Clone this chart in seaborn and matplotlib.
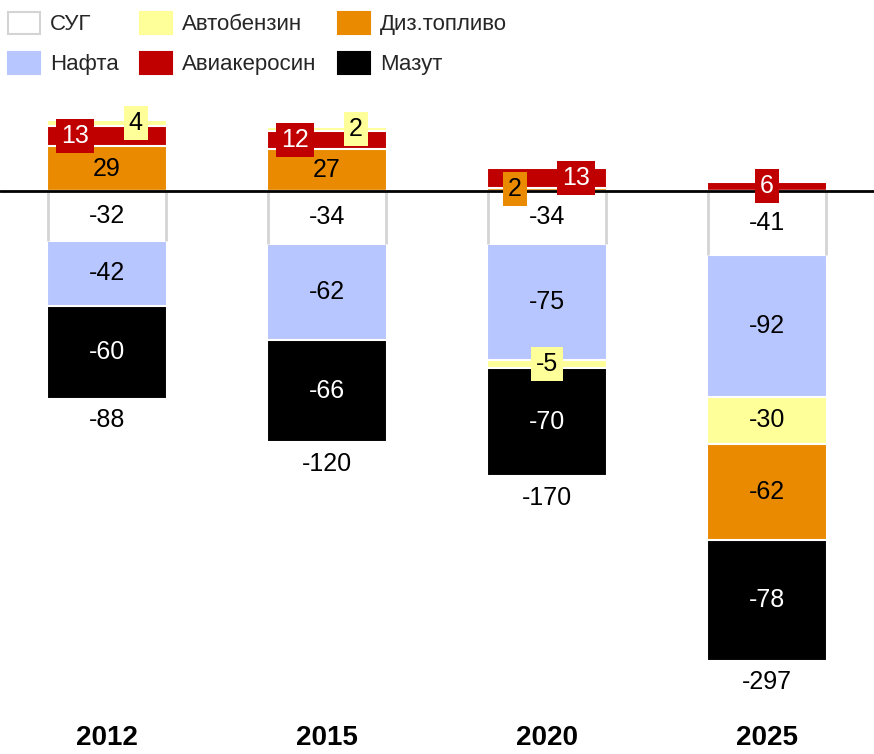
import matplotlib
matplotlib.use('Agg')
import matplotlib.pyplot as plt
from matplotlib.patches import Patch
import seaborn as sns
import pandas as pd

years = ['2012', '2015', '2020', '2025']
sug = [-32, -34, -34, -41]
nafta = [-42, -62, -75, -92]
benzin = [4, 2, -5, -30]
diesel = [29, 27, 2, -62]
kero = [13, 12, 13, 6]
mazut = [-60, -66, -70, -78]
totals = [-88, -120, -170, -297]

series_names = ['СУГ', 'Нафта', 'Автобензин', 'Авиакеросин', 'Диз.топливо', 'Мазут']
colors = {
    'СУГ': '#ffffff',
    'Автобензин': '#ffff99',
    'Диз.топливо': '#e98a00',
    'Нафта': '#b8c6ff',
    'Авиакеросин': '#c00000',
    'Мазут': '#000000',
}
values = {
    'СУГ': sug,
    'Нафта': nafta,
    'Автобензин': benzin,
    'Авиакеросин': kero,
    'Диз.топливо': diesel,
    'Мазут': mazut,
}
pos_order = ['Диз.топливо', 'Авиакеросин', 'Автобензин']
neg_order = ['СУГ', 'Нафта', 'Автобензин', 'Диз.топливо', 'Мазут']

# build stacked segments (start/end) per year and sign
rows = []
for i, yr in enumerate(years):
    for sign, order in (('pos', pos_order), ('neg', neg_order)):
        cum = 0
        for s in order:
            v = values[s][i]
            if v == 0 or (v > 0) != (sign == 'pos'):
                continue
            rows.append(dict(year=yr, idx=i, sign=sign, series=s,
                             value=v, start=cum, end=cum + v))
            cum += v
seg = pd.DataFrame(rows)
seg['rank'] = seg.groupby(['year', 'sign'])['end'].transform(
    lambda e: e.abs().rank(ascending=False, method='first')).astype(int) - 1

sns.set_theme(style='white')
plt.rcParams['font.family'] = ['Liberation Sans', 'DejaVu Sans']

fig = plt.figure(figsize=(8.74, 7.54), dpi=100)
ax = fig.add_axes([0, 0, 1, 1])
bar_w = 0.545

# overlay cumulative bars, outermost first
for sign in ('pos', 'neg'):
    part = seg[seg['sign'] == sign]
    for r in sorted(part['rank'].unique()):
        layer = part[part['rank'] == r]
        sns.barplot(data=layer, x='year', y='end', hue='series',
                    palette=colors, order=years, hue_order=series_names,
                    dodge=False, width=bar_w, saturation=1, errorbar=None,
                    edgecolor='white', linewidth=1.5, legend=False, ax=ax)

# grey sides of the СУГ boxes
for i in range(len(years)):
    ax.vlines([i - bar_w / 2 + 0.004, i + bar_w / 2 - 0.004], sug[i], 0,
              color='#d4d4d4', lw=2, zorder=3)

ax.axhline(0, color='black', lw=2, zorder=5)

# segment labels
for (yr, sign), grp in seg.groupby(['year', 'sign'], sort=False):
    small = grp[grp['value'].abs() < 15]
    offsets = [0.0] if len(small) == 1 else [-0.145, 0.13]
    k = 0
    for _, row in grp.iterrows():
        c = colors[row['series']]
        tcol = 'white' if row['series'] in ('Мазут', 'Авиакеросин') else 'black'
        yc = (row['start'] + row['end']) / 2
        if abs(row['value']) < 15:
            ax.text(row['idx'] + offsets[k], yc, f"{row['value']}",
                    ha='center', va='center', fontsize=18, color=tcol, zorder=6,
                    bbox=dict(boxstyle='square,pad=0.2', fc=c, ec='none'))
            k += 1
        else:
            ax.text(row['idx'], yc, f"{row['value']}", ha='center', va='center',
                    fontsize=18, color=tcol, zorder=6)

# totals below bars and year labels
neg_bottom = seg[seg['sign'] == 'neg'].groupby('idx')['end'].min()
for i, yr in enumerate(years):
    ax.text(i, neg_bottom[i] - 14, f"{totals[i]}", ha='center', va='center',
            fontsize=18, color='black')
    ax.text(i, -357.5, yr, ha='center', va='baseline', fontsize=20,
            fontweight='bold', color='black')

ax.set_xlim(-0.486, 3.486)
ax.set_ylim(-363.2, 123.2)
ax.axis('off')

legend_order = ['СУГ', 'Нафта', 'Автобензин', 'Авиакеросин', 'Диз.топливо', 'Мазут']
handles = [Patch(facecolor=colors[s],
                 edgecolor='#d4d4d4' if s == 'СУГ' else colors[s],
                 linewidth=1.5, label=s) for s in legend_order]
fig.legend(handles=handles, ncol=3, loc='upper left', bbox_to_anchor=(0.0, 0.995),
           frameon=False, fontsize=16, handlelength=1.45, handleheight=1.15,
           handletextpad=0.45, columnspacing=0.95, labelspacing=0.75,
           borderaxespad=0.0, borderpad=0.35)

fig.savefig('out.png', dpi=100)
